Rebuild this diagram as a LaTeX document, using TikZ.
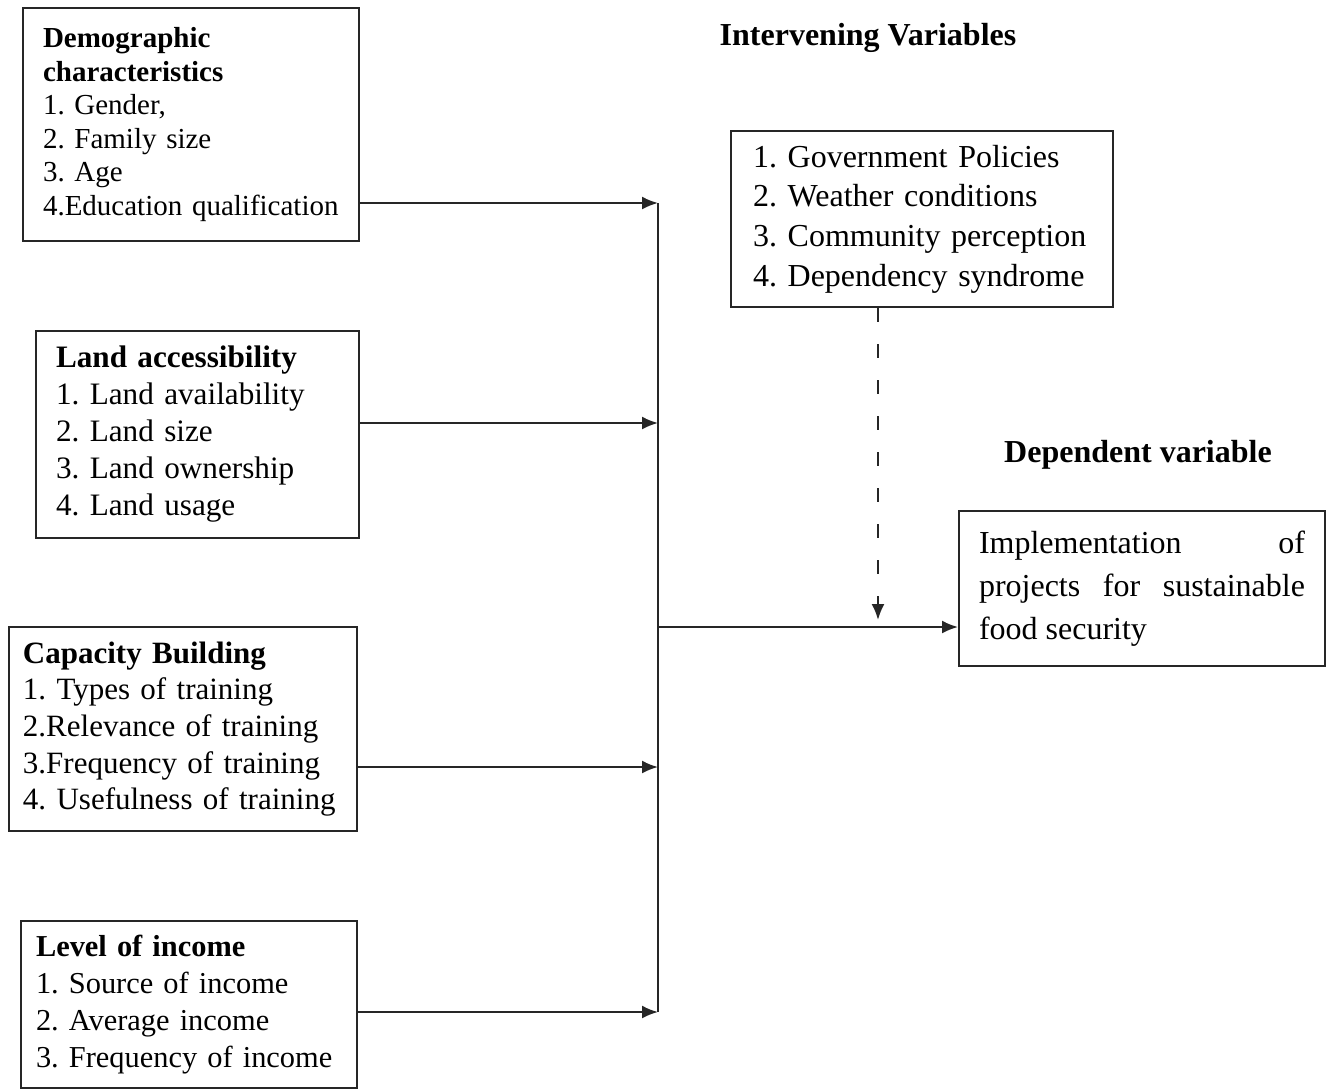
\documentclass[tikz,border=0pt]{standalone}
\usepackage{fontspec}
\setmainfont{Liberation Serif}
\usetikzlibrary{arrows.meta}
\tikzstyle{factor} = [
    rectangle,
    draw=black!85,
    line width=1pt,
    anchor=north west,
    align=left,
    inner xsep=10pt,
    inner ysep=0pt
]
\tikzstyle{heading} = [
    font=\fontsize{16}{19}\selectfont\bfseries
]
\tikzstyle{arrow} = [line width=1pt,-{Latex[length=8pt,width=6.5pt]},draw=black!85]
\tikzstyle{link} = [line width=1pt,draw=black!85]

\begin{document}
\frenchspacing
\begin{tikzpicture}[x=0.5pt, y=-0.5pt]
\useasboundingbox (0,0) rectangle (1328,1089);

\node (demo) [factor, text width=148pt, minimum width=168pt, minimum height=116.5pt,
    font=\fontsize{14.5}{16.8}\selectfont] at (22,7)
{\textbf{Demographic}\\ \textbf{characteristics}\\ 1. Gender,\\ 2. Family size\\
 3. Age\\ 4.Education qualification};

\node (land) [factor, text width=141.5pt, minimum width=161.5pt, minimum height=103.5pt,
    font=\fontsize{15.6}{18.5}\selectfont] at (35,330)
{\textbf{Land accessibility}\\ 1. Land availability\\ 2. Land size\\
 3. Land ownership\\ 4. Land usage};

\node (capacity) [factor, inner xsep=7pt, text width=160pt, minimum width=174pt, minimum height=102pt,
    font=\fontsize{15.5}{18.3}\selectfont] at (8,626)
{\textbf{Capacity Building}\\ 1. Types of training\\ 2.Relevance of training\\
 3.Frequency of training\\ 4. Usefulness of training};

\node (income) [factor, inner xsep=7.5pt, text width=153pt, minimum width=168pt, minimum height=83.5pt,
    font=\fontsize{15.2}{18.6}\selectfont] at (20,920)
{\textbf{Level of income}\\ 1. Source of income\\ 2. Average income\\
 3. Frequency of income};

\node (intertitle) [heading] at (868,38) {Intervening Variables};

\node (inter) [factor, inner xsep=11pt, text width=169pt, minimum width=191pt, minimum height=88pt,
    font=\fontsize{16}{19.8}\selectfont] at (730,130)
{1. Government Policies\\ 2. Weather conditions\\ 3. Community perception\\
 4. Dependency syndrome};

\node (deptitle) [heading] at (1138,455) {Dependent variable};

\node (dep) [factor, align=justify, text width=163pt, minimum width=183pt, minimum height=77.5pt,
    font=\fontsize{16}{21.5}\selectfont] at (958,510)
{Implementation of\linebreak projects for sustainable\linebreak food security};

% junction points on the collecting line
\coordinate (j1) at (658,203);
\coordinate (j2) at (658,423);
\coordinate (j3) at (658,767);
\coordinate (j4) at (658,1012);
\coordinate (jm) at (658,627);
\coordinate (jd) at (878,620);

\draw [arrow] (demo.east |- j1) -- (j1);
\draw [arrow] (land.east |- j2) -- (j2);
\draw [arrow] (capacity.east |- j3) -- (j3);
\draw [arrow] (income.east |- j4) -- (j4);
\draw [link] (j1) -- (j4);
\draw [arrow] (jm) -- (dep.west |- jm);
\draw [arrow, dash pattern=on 7pt off 11pt] (inter.south -| jd) -- (jd);

\end{tikzpicture}
\end{document}
